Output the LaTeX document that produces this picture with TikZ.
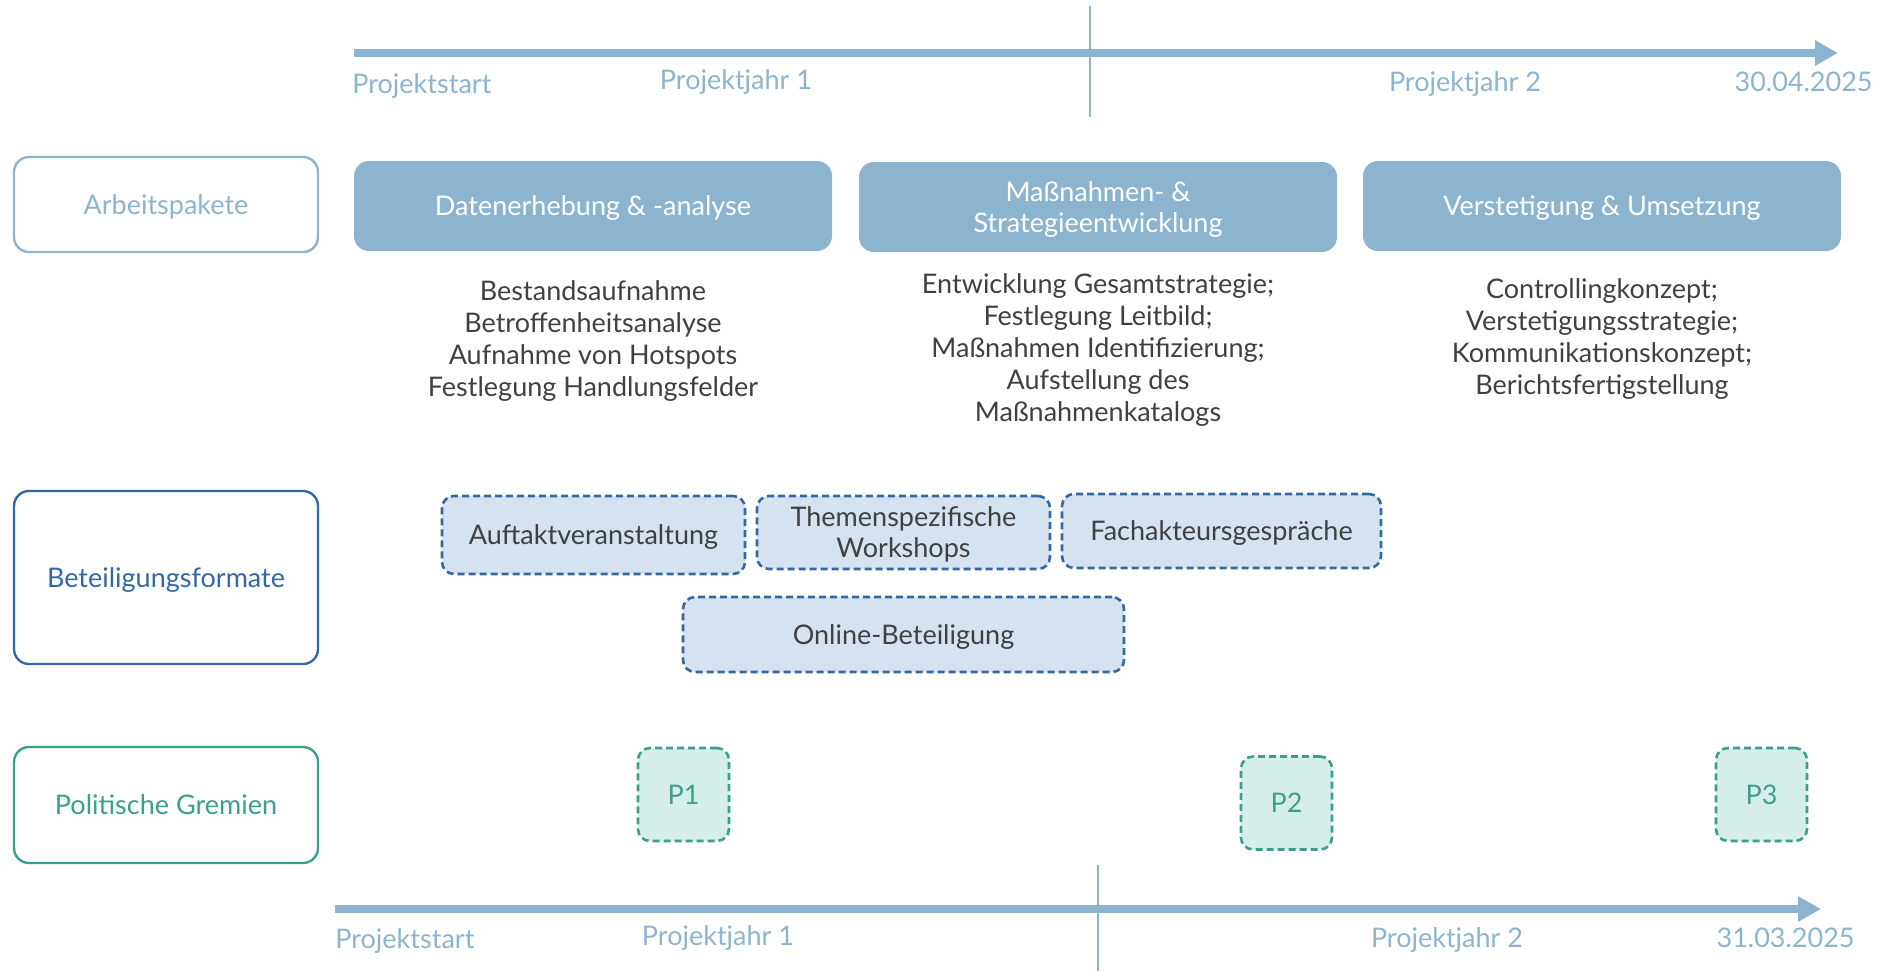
\documentclass[tikz,border=0pt]{standalone}
\usepackage{fontspec}
\setmainfont{Lato}
\usepackage{xcolor}
\usepackage{tikz}
\usetikzlibrary{arrows.meta, positioning}

\definecolor{axisblue}{HTML}{8DB4CF}
\definecolor{formblue}{HTML}{3468A3}
\definecolor{paleblue}{HTML}{D5E2EF}
\definecolor{gremgreen}{HTML}{3C9E8C}
\definecolor{palegreen}{HTML}{D6EEEA}
\definecolor{bodygray}{HTML}{404040}

\begin{document}
\begin{tikzpicture}[x=0.5pt,y=-0.5pt,>={Triangle[length=11.5pt,width=12pt]},thin]
                \tikzset{every node/.style={inner sep=0pt, font=\fontsize{13.5}{16}\selectfont}}
                \tikzset{lane/.style={draw, fill=white, rounded corners=7.5pt, line width=1.2pt, minimum width=152pt, align=center, text depth=0pt}}
                \tikzset{paket/.style={fill=axisblue, rounded corners=7.5pt, minimum width=239pt, minimum height=45pt, text=white, align=center, text depth=0pt, font=\fontsize{13.5}{15.5}\selectfont}}
                \tikzset{taetig/.style={text=bodygray, align=center}}
                \tikzset{format/.style={draw=formblue, fill=paleblue, text=bodygray, dash pattern=on 3.5pt off 2pt, line width=1.3pt, rounded corners=6pt, align=center, text depth=0pt, font=\fontsize{13.5}{15.5}\selectfont}}
                \tikzset{sitzung/.style={draw=gremgreen, fill=palegreen, text=gremgreen, dash pattern=on 3.5pt off 2pt, line width=1.3pt, rounded corners=6pt, minimum width=45.5pt, minimum height=46.5pt, text depth=0pt}}
                \tikzset{zeit/.style={text=axisblue}}

                \useasboundingbox (0,0) rectangle (1883,971);

                % Zeitachse oben
                \coordinate (TA) at (354,53);
                \coordinate (TE) at (1838,53);
                \coordinate (TM1) at (1090,6);
                \coordinate (TM2) at (1090,117);
                \draw[->, line width=4pt, axisblue] (TA) -- (TE);
                \draw[axisblue, line width=0.8pt] (TM1) -- (TM2);
                \node[zeit, anchor=base west] (ts) at (352,93) {Projektstart};
                \node[zeit, anchor=base] (tj1) at (736,89) {Projektjahr 1};
                \node[zeit, anchor=base] (tj2) at (1465,91) {Projektjahr 2};
                \node[zeit, anchor=base east] (tend) at (1873,91) {30.04.2025};

                % Zeilen
                \node[lane, draw=axisblue, text=axisblue, minimum height=47.5pt] (AP) at (166,204.5) {Arbeitspakete};
                \node[lane, draw=formblue, text=formblue, minimum height=86.5pt] (BF) at (166,577.5) {Beteiligungsformate};
                \node[lane, draw=gremgreen, text=gremgreen, minimum height=58pt] (PG) at (166,805) {Politische Gremien};

                % Arbeitspakete
                \node[paket] (AP1) at (593,206) {Datenerhebung \& -analyse};
                \node[paket] (AP2) at (1098,207) {Maßnahmen- \&\\Strategieentwicklung};
                \node[paket] (AP3) at (1602,206) {Verstetigung \& Umsetzung};

                \node[taetig] (T1) at (593,341) {Bestandsaufnahme\\Betroffenheitsanalyse\\Aufnahme von Hotspots\\Festlegung Handlungsfelder};
                \node[taetig] (T2) at (1098,350) {Entwicklung Gesamtstrategie;\\Festlegung Leitbild;\\Maßnahmen Identifizierung;\\Aufstellung des\\Maßnahmenkatalogs};
                \node[taetig] (T3) at (1602,339) {Controllingkonzept;\\Verstetigungsstrategie;\\Kommunikationskonzept;\\Berichtsfertigstellung};

                % Beteiligung
                \node[format, minimum width=151.5pt, minimum height=39pt] (F1) at (593.5,535) {Auftaktveranstaltung};
                \node[format, minimum width=146.5pt, minimum height=36.5pt] (F2) at (903.5,532.5) {Themenspezifische\\Workshops};
                \node[format, minimum width=159.5pt, minimum height=37pt] (F3) at (1221.5,531) {Fachakteursgespräche};
                \node[format, minimum width=220.5pt, minimum height=37.5pt] (F4) at (903.5,634.5) {Online-Beteiligung};

                % Gremien
                \node[sitzung] (P1) at (683.5,794.5) {P1};
                \node[sitzung] (P2) at (1286.5,803) {P2};
                \node[sitzung] (P3) at (1761.5,794.5) {P3};

                % Zeitachse unten
                \coordinate (BA) at (335,909);
                \coordinate (BE) at (1821,909);
                \coordinate (BM1) at (1098,865);
                \coordinate (BM2) at (1098,971);
                \draw[->, line width=4pt, axisblue] (BA) -- (BE);
                \draw[axisblue, line width=0.8pt] (BM1) -- (BM2);
                \node[zeit, anchor=base west] (bs) at (335,948) {Projektstart};
                \node[zeit, anchor=base] (bj1) at (718,945) {Projektjahr 1};
                \node[zeit, anchor=base] (bj2) at (1447,947) {Projektjahr 2};
                \node[zeit, anchor=base east] (bend) at (1855,947) {31.03.2025};
\end{tikzpicture}
\end{document}
